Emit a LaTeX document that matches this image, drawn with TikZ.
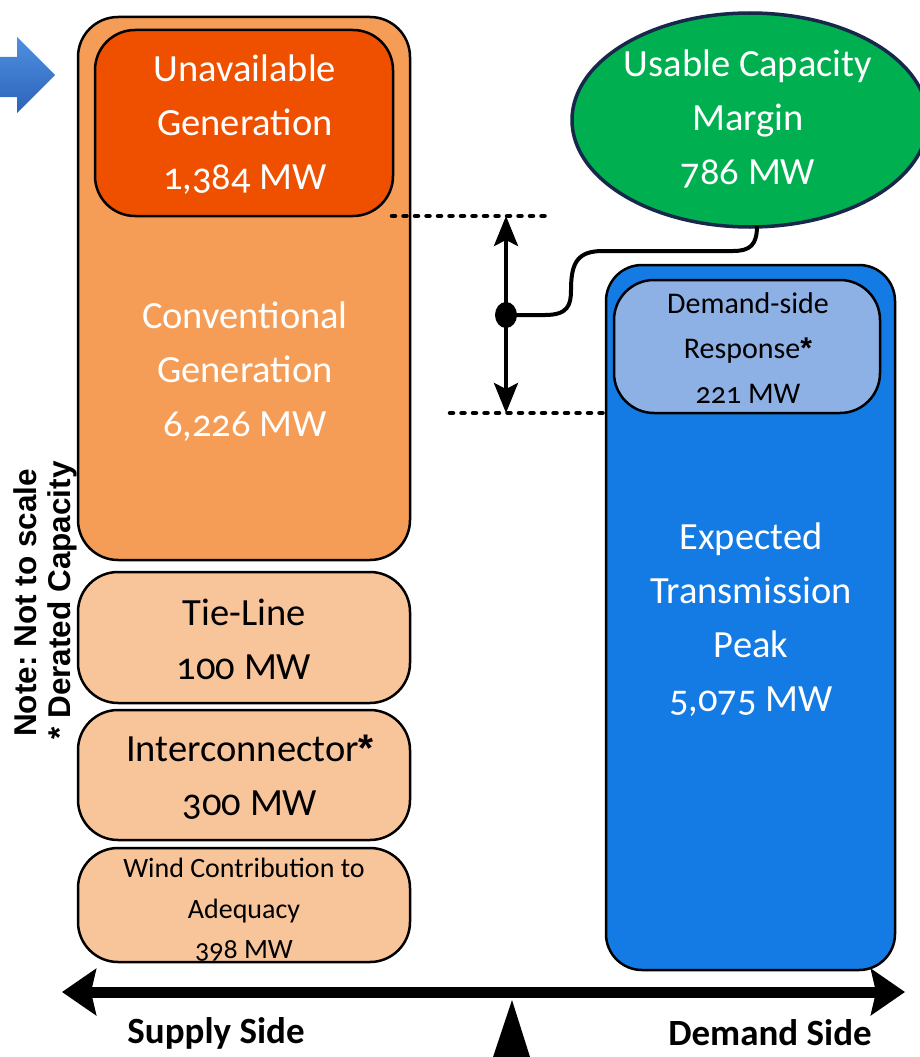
\documentclass[tikz,border=0pt]{standalone}
\usepackage{fontspec}
\setmainfont{Carlito}[Numbers=OldStyle]
\newfontfamily\notefont{Liberation Sans}
\newcommand{\myast}{{\notefont\bfseries *}}
\frenchspacing
\usetikzlibrary{shapes.geometric,arrows.meta}
\definecolor{convfill}{HTML}{F59D56}
\definecolor{unavfill}{HTML}{EE5000}
\definecolor{lightor}{HTML}{F8C49A}
\definecolor{bluefill}{HTML}{137BE3}
\definecolor{dsrfill}{HTML}{8DB0E5}
\definecolor{greenfill}{HTML}{00B050}
\definecolor{navy}{HTML}{17284A}
\definecolor{arrtop}{HTML}{4F8FE0}
\definecolor{arrbot}{HTML}{2C63B8}
\tikzset{
  box/.style={draw=black, line width=2.5pt, rounded corners=40pt, inner sep=0pt},
  big/.style={font=\fontsize{38.5}{54}\selectfont, align=center},
  small/.style={font=\fontsize{28}{42}\selectfont, align=center},
  dotline/.style={line width=4.5pt, line cap=round, dash pattern=on 3pt off 8.5pt},
}
\begin{document}
\begin{tikzpicture}[x=1pt,y=-1pt]
\useasboundingbox (0,0) rectangle (919,1057);
% pointer arrow
\shade[top color=arrtop, bottom color=arrbot, draw=none]
  (0,57) -- (17,57) -- (17,37) -- (55,75) -- (17,113) -- (17,97) -- (0,97) -- cycle;
% supply side boxes
\node[box, fill=convfill, minimum width=332pt, minimum height=543pt] (conv) at (244,288.5) {};
\node[box, fill=unavfill, minimum width=298pt, minimum height=186pt] (unav) at (244,123) {};
\node[box, fill=lightor, minimum width=332pt, minimum height=131pt] (tie) at (244,637.5) {};
\node[box, fill=lightor, minimum width=332pt, minimum height=130pt] (inter) at (244,775) {};
\node[box, fill=lightor, minimum width=332pt, minimum height=114pt] (wind) at (244,905) {};
% demand side
\node[box, fill=bluefill, rounded corners=36pt, minimum width=289pt, minimum height=705pt] (peak) at (750.5,617.5) {};
\node[box, fill=dsrfill, rounded corners=40pt, minimum width=266pt, minimum height=133pt] (dsr) at (747,346.5) {};
\node[ellipse, draw=navy, line width=3.5pt, fill=greenfill, minimum width=356pt, minimum height=214pt, inner sep=0pt] (ucm) at (750,120) {};
% texts
\node[big, text=white] (tunav) at (245,125) {Unavailable\\Generation\\1,384 MW};
\node[big, text=white] (tconv) at (245,372) {Conventional\\Generation\\6,226 MW};
\node[big] (ttie) at (244,639) {Tie-Line\\100 MW};
\node[big] (tinter) at (250,777) {Interconnector\myast\\300 MW};
\node[small, font=\fontsize{28}{40.5}\selectfont] (twind) at (244,910) {Wind Contribution to\\Adequacy\\398 MW};
\node[big, text=white] (tucm) at (748,119) {Usable Capacity\\Margin\\786 MW};
\node[small, font=\fontsize{30}{45}\selectfont] (tdsr) at (748,348) {Demand-side\\Response\myast\\221 MW};
\node[big, text=white] (tpeak) at (751,620) {Expected\\Transmission\\Peak\\5,075 MW};
% note
\node[rotate=90, font=\notefont\bfseries\fontsize{31.5}{34}\selectfont, align=center] (note) at (45,603) {Note: Not to scale\\\,* Derated Capacity};
% dotted levels
\coordinate (ltop) at (392,216);
\coordinate (rtop) at (550,216);
\coordinate (lbot) at (450,413);
\coordinate (rbot) at (606,413);
\draw[dotline] (ltop) -- (rtop);
\draw[dotline] (lbot) -- (rbot);
% margin arrow
\coordinate (mtop) at (506,216);
\coordinate (mbot) at (506,413);
\draw[line width=4pt, {Stealth[length=30pt,width=24pt,inset=6pt]}-{Stealth[length=30pt,width=24pt,inset=6pt]}] (mtop) -- (mbot);
\node[ellipse, fill=black, minimum width=22pt, minimum height=26pt, inner sep=0pt] (dot) at (506,315) {};
\coordinate (ucmfoot) at (757,226);
\draw[line width=4pt] (dot.center) -- (545,315) .. controls (568,315) and (571,305) .. (571,290)
  .. controls (571,262) and (578,251) .. (603,251) -- (733,251)
  .. controls (750,251) and (757,245) .. (ucmfoot);
% balance axis
\coordinate (axl) at (62,992);
\coordinate (axr) at (905,992);
\draw[line width=11pt, {Stealth[length=34pt,width=46pt,inset=5pt]}-{Stealth[length=34pt,width=46pt,inset=5pt]}] (axl) -- (axr);
\fill (512,1000) -- (530,1057) -- (493,1057) -- cycle;
\node[font=\bfseries\fontsize{37}{40}\selectfont] (supply) at (216,1033) {Supply Side};
\node[font=\bfseries\fontsize{37}{40}\selectfont] (demand) at (770,1033) {Demand Side};
\end{tikzpicture}
\end{document}
